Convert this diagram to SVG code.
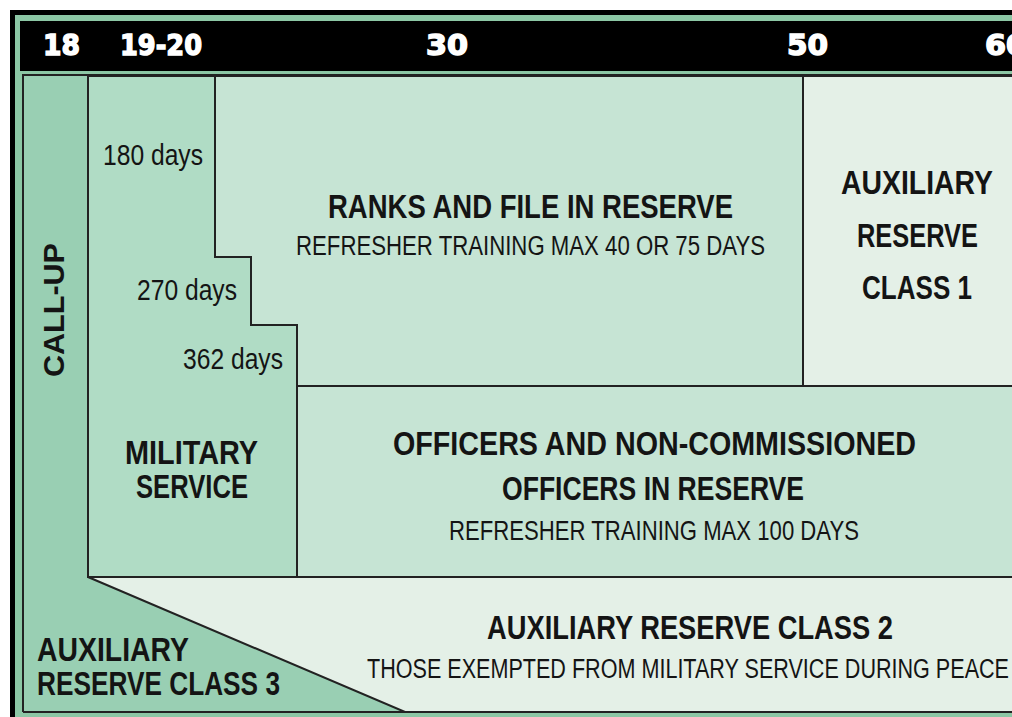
<svg xmlns="http://www.w3.org/2000/svg" width="1012" height="717" viewBox="0 0 1012 717">
<style>
.ln{stroke:#222;stroke-width:2;stroke-linejoin:miter}
.b{font-family:"Liberation Sans",Arial,sans-serif;font-weight:bold;fill:#141414}
.r{font-family:"Liberation Sans",Arial,sans-serif;font-weight:normal;fill:#141414}
.h{font-family:"DejaVu Sans",sans-serif;font-weight:bold;fill:#fff;stroke:#fff;stroke-width:1.5;font-size:29px}
</style>
<rect x="0" y="0" width="1012" height="717" fill="#fff"/>
<g id="frame">
<rect x="10" y="10" width="1010" height="715" fill="#000"/>
<rect x="15" y="15" width="1000" height="705" fill="#8cc7a5"/>
</g>
<g id="header">
<rect x="20" y="21" width="995" height="50" fill="#000"/>
<text class="h" x="43" y="55" textLength="37" lengthAdjust="spacingAndGlyphs">18</text>
<text class="h" x="120" y="55" textLength="82" lengthAdjust="spacingAndGlyphs">19-20</text>
<text class="h" x="426" y="55" textLength="42" lengthAdjust="spacingAndGlyphs">30</text>
<text class="h" x="787" y="55" textLength="41" lengthAdjust="spacingAndGlyphs">50</text>
<text class="h" x="985" y="55" textLength="42" lengthAdjust="spacingAndGlyphs">60</text>
</g>
<g id="call-up">
<rect x="23" y="75" width="65" height="502" fill="#99cfb3"/>
<text class="b" font-size="29" transform="translate(64,377) rotate(-90)" textLength="134" lengthAdjust="spacingAndGlyphs">CALL-UP</text>
</g>
<g id="aux-class-3">
<polygon points="23,576 88,576 405,712 23,712" fill="#99cfb3"/>
<text class="b" font-size="33" x="37" y="661" textLength="152" lengthAdjust="spacingAndGlyphs">AUXILIARY</text>
<text class="b" font-size="33" x="37" y="695" textLength="243" lengthAdjust="spacingAndGlyphs">RESERVE CLASS 3</text>
</g>
<g id="military-service">
<polygon class="ln" points="88,76 215,76 215,257 251,257 251,325 297,325 297,577 88,577" fill="#b0dcc5"/>
<text class="r" font-size="29" x="103" y="165" textLength="100" lengthAdjust="spacingAndGlyphs">180 days</text>
<text class="r" font-size="29" x="137" y="300" textLength="100" lengthAdjust="spacingAndGlyphs">270 days</text>
<text class="r" font-size="29" x="183" y="369" textLength="100" lengthAdjust="spacingAndGlyphs">362 days</text>
<text class="b" font-size="33" x="125" y="464" textLength="133" lengthAdjust="spacingAndGlyphs">MILITARY</text>
<text class="b" font-size="33" x="136" y="498" textLength="112" lengthAdjust="spacingAndGlyphs">SERVICE</text>
</g>
<g id="ranks-and-file">
<polygon class="ln" points="215,76 803,76 803,386 297,386 297,325 251,325 251,257 215,257" fill="#c6e4d4"/>
<text class="b" font-size="34" x="328" y="218" textLength="405" lengthAdjust="spacingAndGlyphs">RANKS AND FILE IN RESERVE</text>
<text class="r" font-size="27" x="296" y="255" textLength="469" lengthAdjust="spacingAndGlyphs">REFRESHER TRAINING MAX 40 OR 75 DAYS</text>
</g>
<g id="aux-class-1">
<rect class="ln" x="803" y="76" width="211" height="310" fill="#e4f0e7"/>
<text class="b" font-size="34" x="841" y="194" textLength="152" lengthAdjust="spacingAndGlyphs">AUXILIARY</text>
<text class="b" font-size="34" x="857" y="247" textLength="121" lengthAdjust="spacingAndGlyphs">RESERVE</text>
<text class="b" font-size="34" x="862" y="299" textLength="110" lengthAdjust="spacingAndGlyphs">CLASS 1</text>
</g>
<g id="officers">
<rect class="ln" x="297" y="386" width="717" height="191" fill="#c6e4d4"/>
<text class="b" font-size="34" x="393" y="455" textLength="523" lengthAdjust="spacingAndGlyphs">OFFICERS AND NON-COMMISSIONED</text>
<text class="b" font-size="34" x="502" y="500" textLength="302" lengthAdjust="spacingAndGlyphs">OFFICERS IN RESERVE</text>
<text class="r" font-size="28" x="449" y="540" textLength="410" lengthAdjust="spacingAndGlyphs">REFRESHER TRAINING MAX 100 DAYS</text>
</g>
<g id="aux-class-2">
<polygon class="ln" points="88,577 1014,577 1014,712 405,712" fill="#e4f0e7"/>
<text class="b" font-size="34" x="487" y="639" textLength="406" lengthAdjust="spacingAndGlyphs">AUXILIARY RESERVE CLASS 2</text>
<text class="r" font-size="27" x="367" y="678" textLength="642" lengthAdjust="spacingAndGlyphs">THOSE EXEMPTED FROM MILITARY SERVICE DURING PEACE</text>
</g>
<g id="connectors">
<path class="ln" fill="none" d="M23,712 V75 H1014 M23,712 H1014"/>
</g>
</svg>
